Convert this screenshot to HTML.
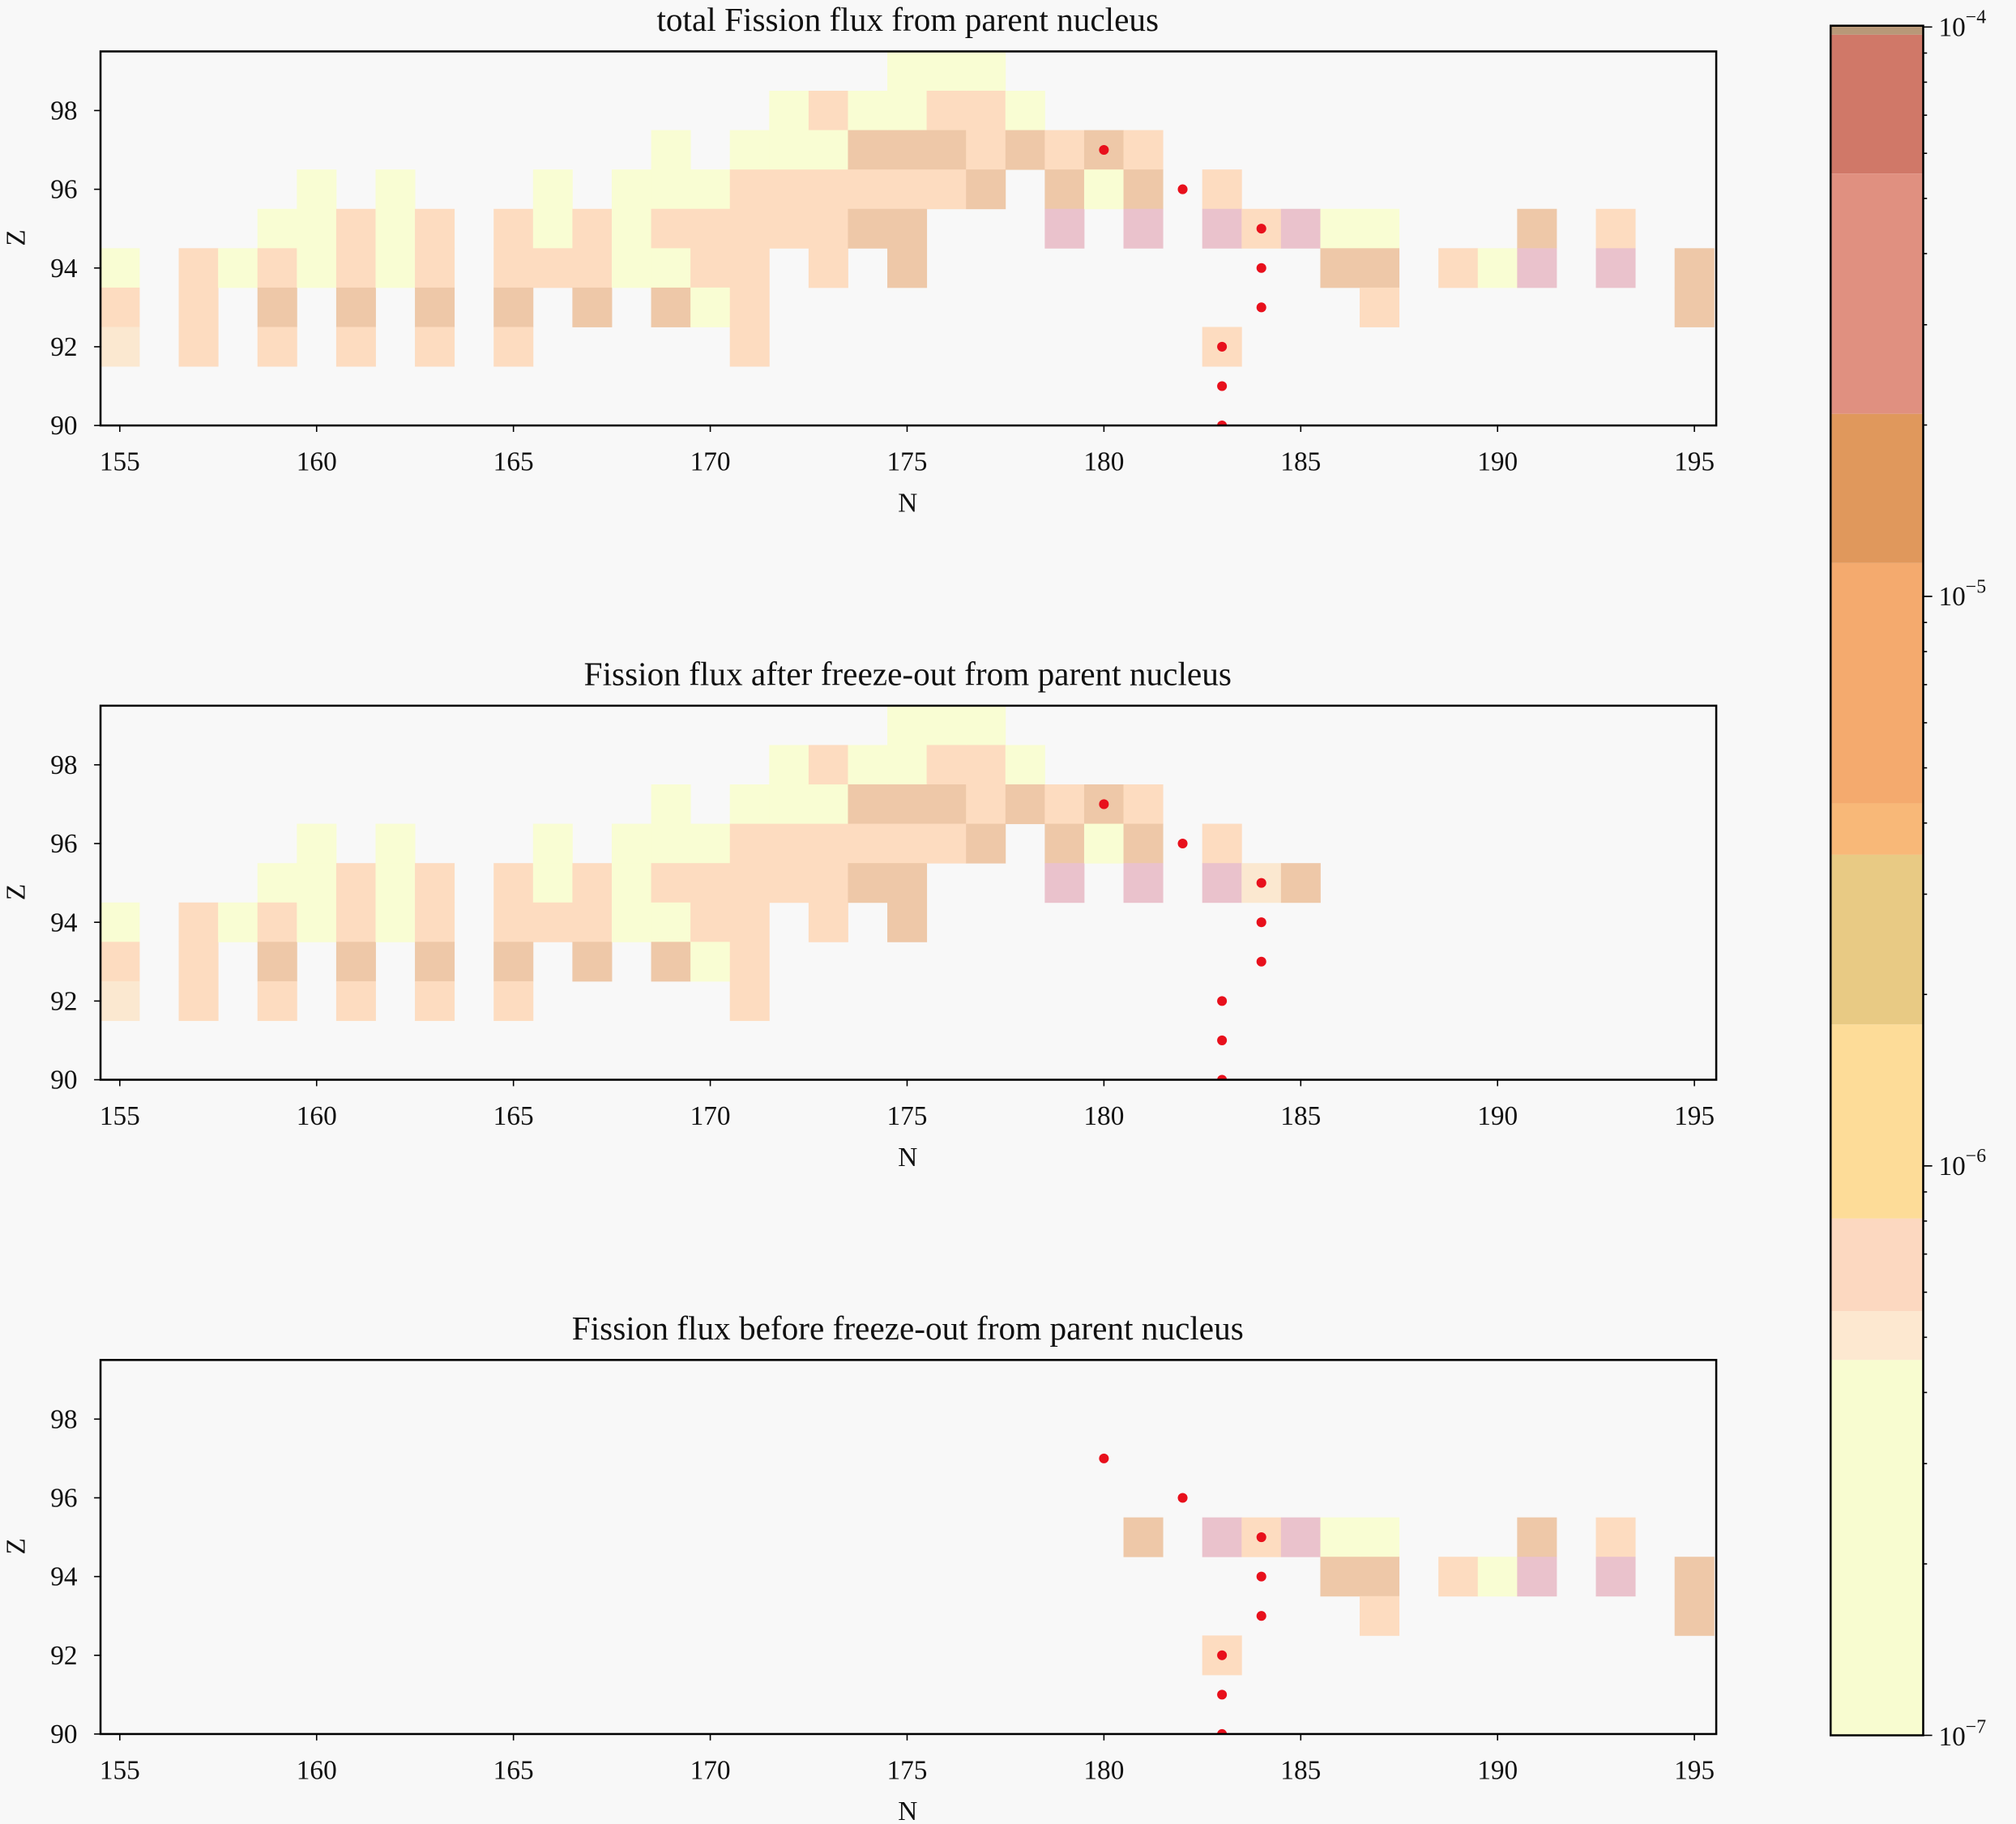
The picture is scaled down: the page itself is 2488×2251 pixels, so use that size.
<!DOCTYPE html>
<html><head><meta charset="utf-8"><style>
html,body{margin:0;padding:0;background:#f8f8f8}
svg{display:block}
text{font-family:"Liberation Serif",serif;fill:#111}
</style></head><body>
<svg id="s" width="2488" height="2251" viewBox="0 0 1568 1419" xmlns="http://www.w3.org/2000/svg">
<rect width="1568" height="1419" fill="#f8f8f8"/>
<g id="g"></g>
</svg>
<script>
const C={y:'#f9fdd3',p:'#fddcc0',t:'#eec8a8',k:'#eac2cc',l:'#fbe8d0'};
const X=n=>93+(n-155)*30.625, Y=z=>331-(z-90)*30.625;
const base=[[155,94,'y'],[155,93,'p'],[155,92,'l'],
[157,94,'p'],[157,93,'p'],[157,92,'p'],[158,94,'y'],
[159,95,'y'],[159,94,'p'],[159,93,'t'],[159,92,'p'],
[160,96,'y'],[160,95,'y'],[160,94,'y'],
[161,95,'p'],[161,94,'p'],[161,93,'t'],[161,92,'p'],
[162,96,'y'],[162,95,'y'],[162,94,'y'],
[163,95,'p'],[163,94,'p'],[163,93,'t'],[163,92,'p'],
[165,95,'p'],[165,94,'p'],[165,93,'t'],[165,92,'p'],
[166,96,'y'],[166,95,'y'],[166,94,'p'],
[167,95,'p'],[167,94,'p'],[167,93,'t'],
[168,96,'y'],[168,95,'y'],[168,94,'y'],
[169,97,'y'],[169,96,'y'],[169,95,'p'],[169,94,'y'],[169,93,'t'],
[170,96,'y'],[170,95,'p'],[170,94,'p'],[170,93,'y'],
[171,97,'y'],[171,96,'p'],[171,95,'p'],[171,94,'p'],[171,93,'p'],[171,92,'p'],
[172,98,'y'],[172,97,'y'],[172,96,'p'],[172,95,'p'],
[173,98,'p'],[173,97,'y'],[173,96,'p'],[173,95,'p'],[173,94,'p'],
[174,98,'y'],[174,97,'t'],[174,96,'p'],[174,95,'t'],
[175,99,'y'],[175,98,'y'],[175,97,'t'],[175,96,'p'],[175,95,'t'],[175,94,'t'],
[176,99,'y'],[176,98,'p'],[176,97,'t'],[176,96,'p'],
[177,99,'y'],[177,98,'p'],[177,97,'p'],[177,96,'t'],
[178,98,'y'],[178,97,'t'],
[179,97,'p'],[179,96,'t'],[179,95,'k'],
[180,97,'t'],[180,96,'y'],
[181,97,'p'],[181,96,'t'],[181,95,'k']];
const p1=base.concat([[183,96,'p'],[183,95,'k'],[183,92,'p'],[184,95,'p'],[185,95,'k'],
[186,95,'y'],[186,94,'t'],[187,95,'y'],[187,94,'t'],[187,93,'p'],[189,94,'p'],[190,94,'y'],
[191,95,'t'],[191,94,'k'],[193,95,'p'],[193,94,'k'],[195,94,'t'],[195,93,'t']]);
const p2=base.concat([[183,96,'p'],[183,95,'k'],[184,95,'l'],[185,95,'t']]);
const p3=[[181,95,'t'],[183,95,'k'],[183,92,'p'],[184,95,'p'],[185,95,'k'],
[186,95,'y'],[186,94,'t'],[187,95,'y'],[187,94,'t'],[187,93,'p'],[189,94,'p'],[190,94,'y'],
[191,95,'t'],[191,94,'k'],[193,95,'p'],[193,94,'k'],[195,94,'t'],[195,93,'t']];
const titles=['total Fission flux from parent nucleus','Fission flux after freeze-out from parent nucleus','Fission flux before freeze-out from parent nucleus'];
const dots=[[180,97],[182,96],[184,95],[184,94],[184,93],[183,92],[183,91],[183,90]];
let h='';
[p1,p2,p3].forEach((cells,i)=>{
 const o=i*509;
 h+=`<g transform="translate(0,${o})"><clipPath id="c${i}"><rect x="78" y="40" width="1257" height="291"/></clipPath><g clip-path="url(#c${i})">`;
 cells.forEach(([n,z,c])=>{h+=`<rect x="${X(n)-15.4}" y="${Y(z)-15.4}" width="30.9" height="30.9" fill="${C[c]}"/>`;});
 dots.forEach(([n,z])=>{h+=`<circle cx="${X(n)}" cy="${Y(z)}" r="3.8" fill="#e8101c"/>`;});
 h+=`</g><rect x="78" y="40" width="1257" height="291" fill="none" stroke="#000" stroke-width="1.6"/>`;
 for(let n=155;n<=195;n+=5){const x=X(n);h+=`<line x1="${x}" y1="331" x2="${x}" y2="336" stroke="#000"/><text x="${x}" y="366" font-size="21" text-anchor="middle">${n}</text>`;}
 for(let z=90;z<=98;z+=2){const y=Y(z);h+=`<line x1="73" y1="${y}" x2="78" y2="${y}" stroke="#000"/><text x="60" y="${y+7}" font-size="21" text-anchor="end">${z}</text>`;}
 h+=`<text x="706" y="398" font-size="21" text-anchor="middle">N</text>`;
 h+=`<text transform="translate(19,185) rotate(-90)" font-size="21" text-anchor="middle">Z</text>`;
 h+=`<text x="706" y="24" font-size="26" text-anchor="middle">${titles[i]}</text></g>`;
});
const bands=[[20,27,'#b89878'],[27,135,'#d07868'],[135,322,'#e09080'],[322,438,'#e0985c'],[438,625,'#f4aa6e'],[625,665,'#f8b878'],[665,797,'#e8ca84'],[797,948,'#fddc98'],[948,1020,'#fcd8c0'],[1020,1058,'#fde8d0'],[1058,1350,'#f8fcd0']];
bands.forEach(([a,b,c])=>{h+=`<rect x="1424" y="${a}" width="72" height="${b-a}" fill="${c}"/>`;});
h+=`<rect x="1424" y="20" width="72" height="1330" fill="none" stroke="#000" stroke-width="1.6"/>`;
for(let d=0;d<3;d++)for(let m=1;m<=10;m++){const y=1350-443*d-443*Math.log10(m);h+=`<line x1="1496" y1="${y}" x2="${m==1||m==10?1503:1499}" y2="${y}" stroke="#000"/>`;}
[[-4,20],[-5,463],[-6,906],[-7,1350]].forEach(([e,y])=>{h+=`<text x="1508" y="${y+8}" font-size="21">10<tspan dy="-10" font-size="15">−${-e}</tspan></text>`;});
document.getElementById('g').innerHTML=h;
</script>
</body></html>
